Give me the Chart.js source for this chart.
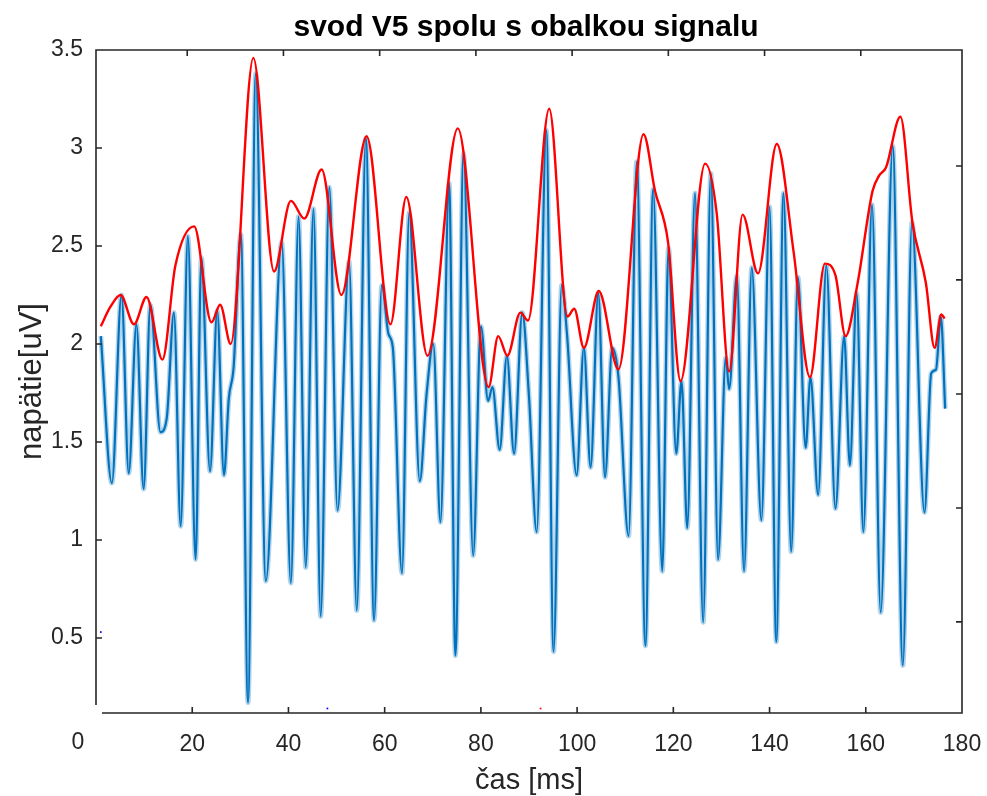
<!DOCTYPE html>
<html>
<head>
<meta charset="utf-8">
<title>svod V5 spolu s obalkou signalu</title>
<script src="https://cdn.jsdelivr.net/npm/chart.js@4.4.1/dist/chart.umd.min.js"></script>
<style>
  html, body { margin: 0; padding: 0; background: #fff; }
</style>
</head>
<body>
<canvas id="chart" width="987" height="796"></canvas>
<script>
// ECG lead V5 - peaks/troughs (time in ms, voltage in uV)
const signalTime = [
  1.0, 3.3, 5.3, 6.8, 8.4, 9.9, 11.3, 13.4, 14.7, 16.2, 17.6, 19.1, 20.7, 21.9, 23.7, 25.2, 26.6, 27.6, 28.6,
  30.1, 31.6, 33.2, 35.3, 38.6, 40.5, 42.1, 43.6, 45.2, 46.7, 48.5, 50.2, 52.6, 54.2, 56.1, 57.8, 59.4,
  60.8, 61.7, 63.6, 65.1, 67.3, 68.7, 70.1, 71.6, 73.4, 74.7, 76.4, 78.4, 80.0, 81.5, 82.4, 83.9, 85.4,
  86.9, 88.6, 90.0, 91.6, 93.6, 95.1, 96.8, 97.9, 99.9, 101.4, 102.8, 104.4, 105.8, 107.3, 108.6, 110.7,
  112.4, 114.2, 115.8, 117.7, 119.0, 120.6, 121.7, 122.9, 124.5, 126.2, 127.8, 129.3, 130.9, 131.6, 133.2,
  134.7, 136.3, 138.3, 140.0, 141.4, 142.9, 144.5, 145.9, 147.5, 148.5, 150.1, 151.8, 153.7, 155.5, 156.7,
  158.1, 159.5, 161.3, 163.1, 165.6, 167.7, 169.6, 172.2, 173.6, 174.6, 175.6, 176.5
];
const signalVolt = [
  2.04, 1.29, 2.25, 1.34, 2.10, 1.26, 2.20, 1.55, 1.62, 2.16, 1.07, 2.55, 0.90, 2.44, 1.35, 2.17, 1.33, 1.72, 1.88,
  2.56, 0.17, 3.38, 0.79, 2.52, 0.78, 2.65, 0.86, 2.69, 0.61, 2.80, 1.15, 2.42, 0.64, 3.05, 0.59, 2.30,
  2.05, 1.98, 0.83, 2.67, 1.30, 1.74, 2.00, 1.09, 2.82, 0.41, 2.97, 0.92, 2.09, 1.71, 1.78, 1.46, 1.94,
  1.44, 2.16, 1.73, 1.04, 3.09, 0.43, 2.30, 2.05, 1.33, 1.98, 1.37, 2.26, 1.32, 1.98, 1.83, 1.02,
  2.93, 0.46, 2.79, 0.84, 2.49, 1.44, 1.81, 1.06, 2.77, 0.58, 2.87, 0.90, 1.93, 1.77, 2.35,
  0.84, 2.39, 1.10, 2.70, 0.48, 2.77, 0.94, 2.34, 1.47, 1.83, 1.23, 2.40, 1.16, 2.04, 1.38,
  2.26, 1.04, 2.71, 0.63, 3.01, 0.36, 2.62, 1.14, 1.85, 1.87, 2.14, 1.67
];

// envelope (obalka)
const envTime = [
  1.0, 3.0, 5.1, 7.9, 10.5, 13.8, 16.5, 20.4, 24.0, 25.8, 28.0, 32.7, 37.0, 40.5, 43.3, 46.9, 51.0, 56.25,
  61.2, 64.5, 68.9, 75.2, 81.6, 83.6, 85.5, 88.2, 89.8, 94.2, 98.0, 99.4, 101.4, 104.5, 108.6, 113.8,
  116.2, 118.9, 121.5, 126.6, 129.0, 131.6, 134.4, 137.6, 141.5, 145.0, 148.4, 151.5, 153.7, 155.8,
  158.3, 161.4, 162.8, 164.2, 167.2, 169.7, 172.5, 174.3, 175.7, 176.4
];
const envVolt = [
  2.09, 2.19, 2.25, 2.10, 2.24, 1.92, 2.40, 2.60, 2.11, 2.20, 2.00, 3.46, 2.37, 2.73, 2.64, 2.89, 2.25, 3.06,
  2.10, 2.75, 1.94, 3.10, 1.78, 2.04, 1.94, 2.16, 2.12, 3.20, 2.14, 2.18, 1.98, 2.27, 1.87, 3.07,
  2.78, 2.52, 1.81, 2.92, 2.67, 1.86, 2.66, 2.36, 3.02, 2.47, 1.83, 2.41, 2.35, 2.04,
  2.31, 2.78, 2.86, 2.90, 3.16, 2.62, 2.31, 1.98, 2.15, 2.13
];

// stray single-pixel marks left in the figure
const blueMarkTime = [1.0, 48.1];
const blueMarkVolt = [0.53, 0.14];
const redMarkTime = [92.4];
const redMarkVolt = [0.14];

const xTickVals = [20, 40, 60, 80, 100, 120, 140, 160, 180];
const yTickVals = [0.5, 1, 1.5, 2, 2.5, 3, 3.5];
const rightTickVals = [0.582, 1.163, 1.745, 2.327, 2.908];

const TITLE = 'svod V5 spolu s obalkou signalu';
const FONT = "'Liberation Sans', Arial, Helvetica, sans-serif";
const INK = '#262626';

const pts = (xs, ys) => xs.map((x, i) => ({ x: x, y: ys[i] }));

// MATLAB-like frame: inward ticks, open bottom-left corner, shifted top ticks
const framePlugin = {
    id: 'frame',
    afterDatasetsDraw(chart) {
        const { ctx, chartArea: a, scales: { x, y } } = chart;
        ctx.save();
        ctx.strokeStyle = INK;
        ctx.lineWidth = 1.6;
        ctx.beginPath();
        ctx.moveTo(a.left, a.bottom - 8); ctx.lineTo(a.left, a.top);
        ctx.lineTo(a.right, a.top); ctx.lineTo(a.right, a.bottom);
        ctx.lineTo(a.left + 6, a.bottom);
        xTickVals.filter(v => v < 180).forEach(v => {
            const px = x.getPixelForValue(v);
            ctx.moveTo(px, a.bottom); ctx.lineTo(px, a.bottom - 6);
            ctx.moveTo(px - 5, a.top); ctx.lineTo(px - 5, a.top + 6);
        });
        yTickVals.forEach(v => {
            const py = y.getPixelForValue(v);
            ctx.moveTo(a.left, py); ctx.lineTo(a.left + 6, py);
        });
        rightTickVals.forEach(v => {
            const py = y.getPixelForValue(v);
            ctx.moveTo(a.right, py); ctx.lineTo(a.right - 6, py);
        });
        ctx.stroke();
        // lone "0" label sitting left of the axes
        ctx.fillStyle = INK;
        ctx.font = '23px ' + FONT;
        ctx.textAlign = 'center';
        ctx.textBaseline = 'top';
        ctx.fillText('0', a.left - 18, a.bottom + 18);
        // title, centred over the plot box
        ctx.fillStyle = '#000';
        ctx.font = 'bold 30px ' + FONT;
        ctx.textBaseline = 'middle';
        ctx.fillText(TITLE, (a.left + a.right) / 2 - 3, 28);
        ctx.restore();
    }
};

new Chart(document.getElementById('chart'), {
    type: 'line',
    data: {
        datasets: [
            {
                label: 'signal', data: pts(signalTime, signalVolt),
                borderColor: '#0072BD', borderWidth: 2.2, pointRadius: 0,
                cubicInterpolationMode: 'monotone', order: 2
            },
            {
                label: 'signal halo', data: pts(signalTime, signalVolt),
                borderColor: 'rgba(0,114,189,0.3)', borderWidth: 5, pointRadius: 0,
                cubicInterpolationMode: 'monotone', order: 3
            },
            {
                label: 'obalka', data: pts(envTime, envVolt),
                borderColor: '#FF0000', borderWidth: 2.4, pointRadius: 0,
                cubicInterpolationMode: 'monotone', order: 1
            },
            {
                type: 'scatter', label: 'b', data: pts(blueMarkTime, blueMarkVolt),
                pointStyle: 'rect', pointRadius: 1.2, backgroundColor: '#0000FF', borderWidth: 0
            },
            {
                type: 'scatter', label: 'r', data: pts(redMarkTime, redMarkVolt),
                pointStyle: 'rect', pointRadius: 1.2, backgroundColor: '#FF0000', borderWidth: 0
            }
        ]
    },
    options: {
        responsive: false, animation: false,
        layout: { padding: { top: 50, right: 25 } },
        plugins: {
            legend: { display: false }, tooltip: { enabled: false }, title: { display: false }
        },
        scales: {
            x: {
                type: 'linear', min: 0, max: 180,
                afterBuildTicks: s => { s.ticks = xTickVals.map(v => ({ value: v })); },
                afterFit: s => { s.height = 83; },
                grid: { display: false, drawTicks: true, tickLength: 18 }, border: { display: false },
                ticks: { color: INK, font: { family: FONT, size: 23 }, padding: 0, maxRotation: 0, callback: v => String(v) },
                title: { display: true, text: 'čas [ms]', color: INK, font: { family: FONT, size: 29, lineHeight: 1 }, padding: { bottom: 1 } }
            },
            y: {
                type: 'linear', min: 0.117, max: 3.5,
                afterBuildTicks: s => { s.ticks = yTickVals.map(v => ({ value: v })); },
                afterFit: s => { s.width = 96; },
                grid: { display: false, drawTicks: false }, border: { display: false },
                ticks: { color: INK, font: { family: FONT, size: 23 }, padding: 13, callback: v => String(v) },
                title: { display: true, text: 'napätie[uV]', color: INK, font: { family: FONT, size: 31, lineHeight: 1 }, padding: { top: 17 } }
            }
        }
    },
    plugins: [framePlugin]
});
</script>
</body>
</html>
